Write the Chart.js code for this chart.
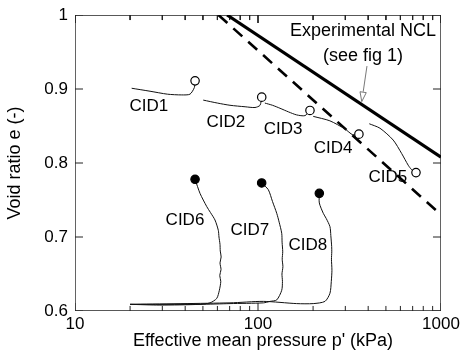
<!DOCTYPE html>
<html>
<head>
<meta charset="utf-8">
<script src="https://cdn.jsdelivr.net/npm/chart.js@4.4.0/dist/chart.umd.min.js"></script>
<style>
  html, body { margin: 0; padding: 0; background: #fff; }
  #wrap { width: 461px; height: 362px; }
</style>
</head>
<body>
<div id="wrap"><canvas id="chart"></canvas></div>
<script>
// values (p' in kPa, void ratio e)
const nclP = [67.8, 1000];
const nclE = [1.0, 0.808];
const csP = [60.8, 1000];
const csE = [1.0, 0.730];

const cid1P = [20.4, 25.7, 32.0, 38.3, 42.5, 44.9, 45.3];
const cid1E = [0.901, 0.897, 0.893, 0.892, 0.893, 0.902, 0.911];
const cid2P = [50.2, 60, 70.3, 85, 96.3, 102.6, 104.8];
const cid2E = [0.885, 0.881, 0.878, 0.876, 0.875, 0.878, 0.889];
const cid3P = [109, 120, 131.8, 147, 162.6, 180.6, 192.3];
const cid3E = [0.881, 0.878, 0.874, 0.869, 0.865, 0.864, 0.871];
const cid4P = [200.4, 247, 298.6, 330, 356];
const cid4E = [0.863, 0.857, 0.846, 0.838, 0.839];
const cid5P = [405.6, 464, 548, 609, 662, 691, 730];
const cid5E = [0.853, 0.847, 0.831, 0.813, 0.797, 0.791, 0.787];

const cid6P = [20.0, 29.1, 48.2, 54.7, 59.5, 61.5, 62.6, 61.8, 62.8, 62.0, 62.9, 62.2, 62.0, 61.2, 60.7, 58.2, 55.0, 52.5, 48.2, 45.3];
const cid6E = [0.609, 0.608, 0.609, 0.611, 0.617, 0.628, 0.640, 0.648, 0.656, 0.665, 0.673, 0.681, 0.690, 0.700, 0.709, 0.723, 0.733, 0.741, 0.759, 0.778];
const cid7P = [20.0, 48.2, 70.3, 107, 116.4, 126.6, 134.8, 136.0, 135.2, 136.8, 135.6, 136.5, 135.4, 134.8, 130.5, 126.6, 120.0, 113.8, 104.7];
const cid7E = [0.609, 0.609, 0.610, 0.611, 0.613, 0.615, 0.628, 0.640, 0.650, 0.660, 0.670, 0.680, 0.693, 0.705, 0.720, 0.732, 0.748, 0.764, 0.773];
const cid8P = [20.0, 70.3, 107, 162.6, 200.4, 232.3, 247.3, 251.5, 253.5, 252.0, 253.0, 252.7, 250.0, 247.3, 236.0, 227.4, 216.3, 216.3];
const cid8E = [0.609, 0.611, 0.613, 0.610, 0.610, 0.613, 0.624, 0.640, 0.655, 0.670, 0.680, 0.687, 0.702, 0.714, 0.725, 0.732, 0.746, 0.759];

// curve labels, placed in data coordinates
const labelText = ['CID1', 'CID2', 'CID3', 'CID4', 'CID5', 'CID6', 'CID7', 'CID8'];
const labelP = [25.3, 66.8, 137, 257, 513, 39.9, 90.3, 187.5];
const labelE = [0.876, 0.855, 0.845, 0.820, 0.780, 0.723, 0.709, 0.689];

const noteLines = ['Experimental NCL', '(see fig 1)'];
const noteP = 375;
const noteE = [0.978, 0.945];
const arrowP = [394, 369];
const arrowE = [0.931, 0.883];

const xMin = 10, xMax = 1000, yMin = 0.6, yMax = 1.0;
const xMajor = [10, 100, 1000];
const xMinor = [20, 30, 40, 50, 60, 70, 80, 90, 200, 300, 400, 500, 600, 700, 800, 900];
const yTicks = [0.6, 0.7, 0.8, 0.9, 1.0];
const xTitle = "Effective mean pressure p' (kPa)";

const FONT = "'Liberation Sans', Arial, sans-serif";

const pts = (xs, ys) => xs.map((x, i) => ({ x: x, y: ys[i] }));

// line with a marker on its last point only
function testCurve(xs, ys, filled) {
  const last = xs.length - 1;
  return {
    data: pts(xs, ys),
    borderColor: '#111',
    borderWidth: 1,
    tension: 0.25,
    pointRadius: c => c.dataIndex === last ? 4.2 : 0,
    pointBackgroundColor: filled ? '#000' : '#fff',
    pointBorderColor: '#000',
    pointBorderWidth: 1.2
  };
}

// plot box, drawn as a closed line along the axis limits
const boxData = [
  { x: xMin, y: yMin }, { x: xMax, y: yMin }, { x: xMax, y: yMax },
  { x: xMin, y: yMax }, { x: xMin, y: yMin }
];

// inward tick marks, separated by gaps
const tickData = [];
xMajor.concat(xMinor).forEach(v => {
  const len = xMajor.includes(v) ? 0.0108 : 0.0068;
  tickData.push({ x: v, y: yMin }, { x: v, y: yMin + len }, { x: v, y: null });
  tickData.push({ x: v, y: yMax }, { x: v, y: yMax - len }, { x: v, y: null });
});
yTicks.forEach(v => {
  tickData.push({ x: xMin, y: v }, { x: xMin * 1.106, y: v }, { x: xMin, y: null });
  tickData.push({ x: xMax, y: v }, { x: xMax / 1.106, y: v }, { x: xMax, y: null });
});

const notes = {
  id: 'notes',
  afterDraw(chart) {
    const ctx = chart.ctx;
    const xs = chart.scales.x, ys = chart.scales.y;
    const a = chart.chartArea;
    ctx.save();
    ctx.fillStyle = '#000';
    ctx.textAlign = 'center';
    ctx.textBaseline = 'middle';

    // x axis title, sits a little right of centre in the original
    ctx.font = '18px ' + FONT;
    ctx.fillText(xTitle, (a.left + a.right) / 2 + 5, a.bottom + 30);

    ctx.font = '17px ' + FONT;
    labelText.forEach((t, i) => {
      ctx.fillText(t, xs.getPixelForValue(labelP[i]), ys.getPixelForValue(labelE[i]));
    });

    ctx.font = '18px ' + FONT;
    noteLines.forEach((t, i) => {
      ctx.fillText(t, xs.getPixelForValue(noteP), ys.getPixelForValue(noteE[i]));
    });
    const x0 = xs.getPixelForValue(arrowP[0]), y0 = ys.getPixelForValue(arrowE[0]);
    const x1 = xs.getPixelForValue(arrowP[1]), y1 = ys.getPixelForValue(arrowE[1]);
    const ang = Math.atan2(y1 - y0, x1 - x0);
    const hl = 10, hw = 0.32;
    ctx.strokeStyle = '#555';
    ctx.lineWidth = 0.8;
    ctx.beginPath();
    ctx.moveTo(x0, y0);
    ctx.lineTo(x1 - hl * Math.cos(ang), y1 - hl * Math.sin(ang));
    ctx.stroke();
    ctx.beginPath();
    ctx.moveTo(x1, y1);
    ctx.lineTo(x1 - hl * Math.cos(ang - hw), y1 - hl * Math.sin(ang - hw));
    ctx.lineTo(x1 - hl * Math.cos(ang + hw), y1 - hl * Math.sin(ang + hw));
    ctx.closePath();
    ctx.stroke();
    ctx.restore();
  }
};

new Chart(document.getElementById('chart'), {
  type: 'scatter',
  data: {
    datasets: [
      testCurve(cid1P, cid1E, false),
      testCurve(cid2P, cid2E, false),
      testCurve(cid3P, cid3E, false),
      testCurve(cid4P, cid4E, false),
      testCurve(cid5P, cid5E, false),
      testCurve(cid6P, cid6E, true),
      testCurve(cid7P, cid7E, true),
      testCurve(cid8P, cid8E, true),
      {
        data: pts(nclP, nclE),
        showLine: true,
        borderColor: '#000',
        borderWidth: 3.2,
        pointRadius: 0
      },
      {
        data: pts(csP, csE),
        showLine: true,
        borderColor: '#000',
        borderWidth: 2.6,
        borderDash: [12, 8],
        pointRadius: 0
      },
      {
        data: tickData,
        showLine: true,
        spanGaps: false,
        borderColor: '#222',
        borderWidth: 1,
        tension: 0,
        pointRadius: 0
      },
      {
        data: boxData,
        showLine: true,
        borderColor: '#222',
        borderWidth: 1.4,
        tension: 0,
        pointRadius: 0
      }
    ]
  },
  options: {
    responsive: true,
    maintainAspectRatio: false,
    animation: false,
    showLine: true,
    layout: { padding: { top: 15, right: 20, left: 0, bottom: 0 } },
    plugins: {
      legend: { display: false },
      tooltip: { enabled: false }
    },
    scales: {
      x: {
        type: 'logarithmic',
        min: xMin,
        max: xMax,
        grid: { display: false, drawTicks: false },
        border: { display: false },
        afterFit: s => { s.height = 51; s.paddingLeft = 0; s.paddingRight = 0; },
        ticks: {
          autoSkip: false,
          maxRotation: 0,
          padding: 3,
          color: '#000',
          font: { family: FONT, size: 17 },
          callback: v => xMajor.includes(v) ? String(v) : ''
        }
      },
      y: {
        min: yMin,
        max: yMax,
        grid: { display: false, drawTicks: false },
        border: { display: false },
        afterFit: s => { s.width = 75; s.paddingTop = 0; s.paddingBottom = 0; },
        afterBuildTicks: s => { s.ticks = yTicks.map(v => ({ value: v })); },
        ticks: {
          padding: 7,
          color: '#000',
          font: { family: FONT, size: 17 },
          callback: v => Math.abs(v - 1) < 1e-9 ? '1' : v.toFixed(1)
        },
        title: {
          display: true,
          text: 'Void ratio e (-)',
          color: '#000',
          font: { family: FONT, size: 18 },
          padding: { top: 4, bottom: 0 }
        }
      }
    }
  },
  plugins: [notes]
});
</script>
</body>
</html>
